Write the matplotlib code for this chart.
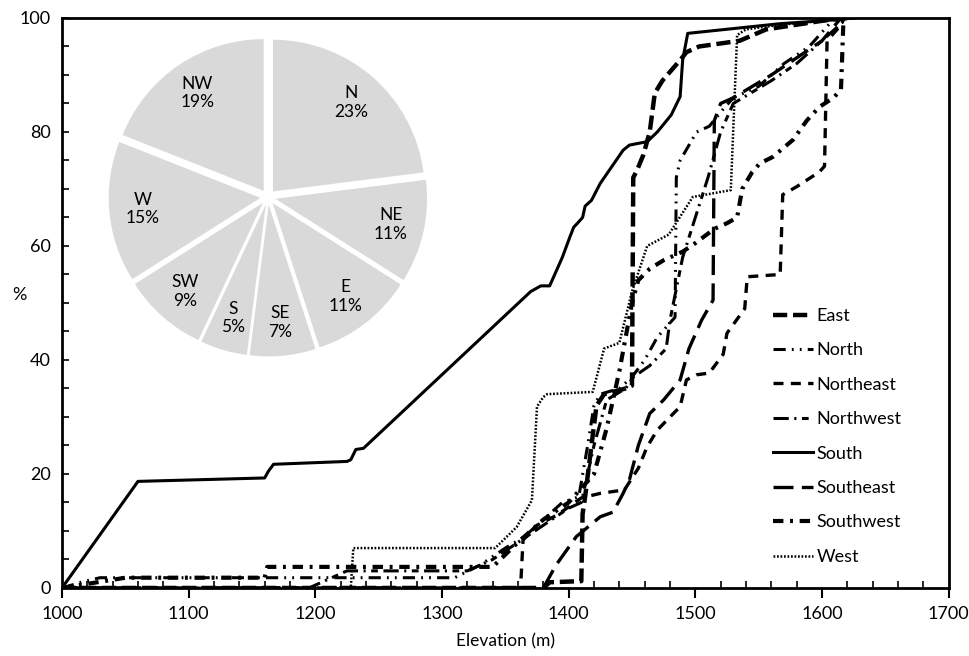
import numpy as np
import matplotlib.pyplot as plt
from matplotlib.ticker import MultipleLocator

plt.rcParams['font.family'] = ['Lato', 'DejaVu Sans']

# courbes cumulées (élévation en m, pourcentage)
east_e = [1000, 1380, 1385, 1410, 1411, 1413, 1418, 1422, 1428, 1445, 1450, 1451, 1454, 1459, 1464, 1468, 1474, 1488, 1493, 1503, 1535, 1556, 1600, 1620]
east_p = [0, 0, 1, 1.2, 13, 16, 25, 32, 34, 35, 35.5, 72, 73.3, 76, 80, 86.8, 89, 92.6, 94, 95, 96, 98, 99.5, 100]

north_e = [1000, 1015, 1030, 1310, 1330, 1350, 1365, 1380, 1395, 1408, 1415, 1420, 1425, 1440, 1450, 1460, 1470, 1478, 1484, 1485, 1488, 1501, 1511, 1522, 1530, 1550, 1570, 1590, 1610]
north_p = [0, 1, 1.8, 1.8, 4, 7, 9, 12, 15, 16, 25, 32, 34, 35, 37, 40, 44, 46, 47.5, 72, 75, 80, 81, 84, 86, 88, 92, 95, 100]

northeast_e = [1000, 1362, 1364, 1375, 1391, 1410, 1425, 1444, 1455, 1462, 1470, 1480, 1488, 1493, 1501, 1511, 1522, 1525, 1539, 1541, 1567, 1569, 1580, 1598, 1602, 1604, 1612, 1618]
northeast_p = [0, 0, 8.4, 11, 12.8, 15.8, 16.6, 17.2, 21, 24.8, 27.7, 30, 31.8, 36.5, 37.4, 37.7, 41, 44.7, 49, 54.6, 55, 69, 70.4, 73, 74, 96, 98, 100]

northwest_e = [1000, 1195, 1210, 1225, 1320, 1340, 1360, 1380, 1400, 1410, 1420, 1430, 1445, 1451, 1464, 1477, 1480, 1490, 1500, 1510, 1520, 1530, 1545, 1560, 1580, 1600, 1620]
northwest_p = [0, 0, 1.5, 3, 3, 5, 8, 11, 14, 15, 25, 33, 35, 37, 39, 42, 47, 58, 65, 72, 80, 85, 87, 89, 92, 96, 100]

south_e = [1000, 1060, 1160, 1163, 1167, 1225, 1228, 1232, 1238, 1370, 1378, 1385, 1395, 1401, 1404, 1407, 1411, 1413, 1418, 1425, 1443, 1448, 1462, 1470, 1481, 1488, 1490, 1494, 1567, 1600, 1625]
south_p = [0, 18.7, 19.3, 20.5, 21.7, 22.2, 22.5, 24.3, 24.5, 52, 53, 53, 58, 61.6, 63.3, 64, 65, 67, 68, 71, 76.8, 77.7, 78.3, 80, 83, 86.2, 92.6, 97.3, 99, 99.5, 100]

southeast_e = [1000, 1380, 1390, 1406, 1425, 1435, 1443, 1448, 1455, 1464, 1475, 1488, 1495, 1505, 1514, 1515, 1520, 1530, 1545, 1560, 1580, 1600, 1615]
southeast_p = [0, 0, 4, 9, 12.5, 13.3, 16.6, 19, 25, 30.6, 33, 36.5, 42, 47, 50.5, 82, 85, 86, 88, 90, 93, 96, 100]

southwest_e = [1000, 1050, 1160, 1162, 1340, 1360, 1380, 1400, 1420, 1430, 1440, 1450, 1455, 1464, 1475, 1490, 1500, 1515, 1525, 1533, 1537, 1545, 1551, 1561, 1577, 1588, 1598, 1609, 1615, 1617]
southwest_p = [0, 1.8, 1.8, 3.7, 3.7, 8, 12, 15, 20, 28, 38, 50, 54, 56, 57.5, 59, 60.5, 63, 64, 65, 70, 73, 74.5, 75.6, 78.6, 82, 84.4, 86, 87.4, 100]

west_e = [1000, 1228, 1230, 1342, 1359, 1371, 1375, 1380, 1383, 1419, 1428, 1440, 1450, 1462, 1479, 1498, 1528, 1533, 1540, 1567, 1600, 1625]
west_p = [0, 0, 7, 7, 10.7, 15.4, 31.8, 33.5, 34, 34.4, 42, 43, 52, 60, 62, 68.6, 69.8, 97, 98, 98.8, 99.5, 100]

# camembert des orientations
pie_noms = ["N", "NE", "E", "SE", "S", "SW", "W", "NW"]
pie_pct = [23, 11, 11, 7, 5, 9, 15, 19]

fig = plt.figure(figsize=(9.7, 6.56), dpi=100)
ax = fig.add_axes([0.0639, 0.1037, 0.9141, 0.8689])

courbes = [
    ("East", east_e, east_p, dict(lw=3.2, dashes=(3.2, 1.3))),
    ("North", north_e, north_p, dict(lw=2.2, dashes=(4, 2, 0.6, 2, 0.6, 2))),
    ("Northeast", northeast_e, northeast_p, dict(lw=2.4, dashes=(3, 2.2))),
    ("Northwest", northwest_e, northwest_p, dict(lw=2.2, dashes=(5, 1.8, 0.7, 1.8, 2.2, 1.8))),
    ("South", south_e, south_p, dict(lw=2.2, ls="-")),
    ("Southeast", southeast_e, southeast_p, dict(lw=2.4, dashes=(6, 2.5))),
    ("Southwest", southwest_e, southwest_p, dict(lw=3.0, dashes=(2.5, 1.6, 0.7, 1.6))),
    ("West", west_e, west_p, dict(lw=1.8, dashes=(0.7, 0.7))),
]
for nom, e, p, style in courbes:
    ax.plot(e, p, color="black", label=nom, **style)

ax.set_xlim(1000, 1700)
ax.set_ylim(0, 100)
ax.xaxis.set_major_locator(MultipleLocator(100))
ax.xaxis.set_minor_locator(MultipleLocator(20))
ax.yaxis.set_major_locator(MultipleLocator(20))
ax.yaxis.set_minor_locator(MultipleLocator(5))
ax.tick_params(axis="x", which="major", direction="out", length=7, width=1.5, labelsize=13, pad=6)
ax.tick_params(axis="x", which="minor", direction="in", length=5, width=1.2)
ax.tick_params(axis="y", which="both", direction="in", length=5, width=1.2, labelsize=13, pad=8)
for s in ax.spines.values():
    s.set_linewidth(2)

ax.set_xlabel("Elevation (m)", fontsize=12.5, labelpad=8)
ax.set_ylabel("%", fontsize=13, rotation=0, labelpad=14)
ax.yaxis.set_label_coords(-0.048, 0.5)

ax.legend(loc="lower right", bbox_to_anchor=(0.965, 0.012), frameon=False, fontsize=13,
          handlelength=2.2, handletextpad=0.2, labelspacing=1.02)

# camembert en encart
axp = fig.add_axes([0.101, 0.4405, 0.3505, 0.518])
labels = [f"{n}\n{p}%" for n, p in zip(pie_noms, pie_pct)]
axp.pie(pie_pct, labels=labels, colors=["#d9d9d9"] * len(pie_pct), startangle=90,
        counterclock=False, explode=[0.05] * len(pie_pct), labeldistance=0.78,
        textprops=dict(ha="center", va="center", fontsize=12.5, multialignment="center"))
axp.set_xlim(-1.12, 1.12)
axp.set_ylim(-1.12, 1.12)
axp.set_aspect("equal")

fig.savefig("out.png", dpi=100)
